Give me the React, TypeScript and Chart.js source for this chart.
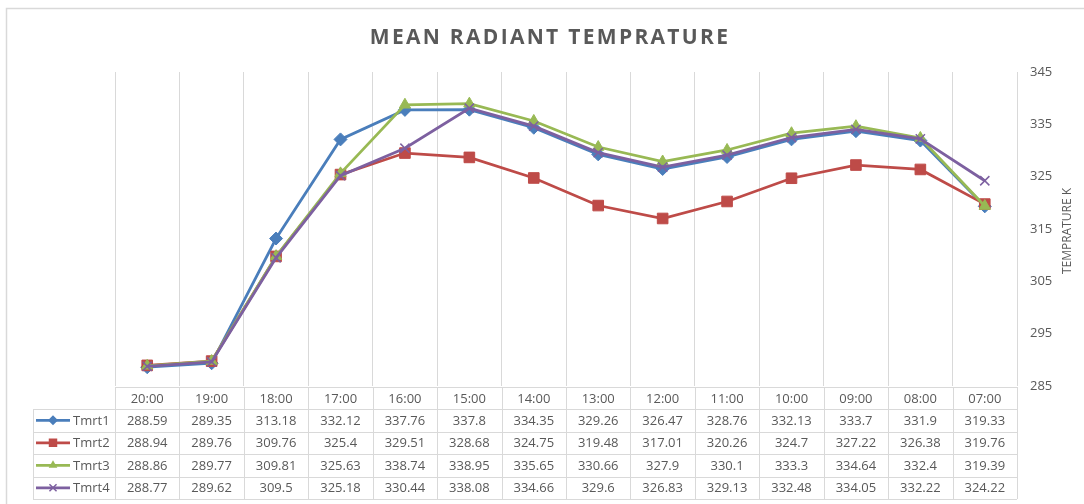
import React, { useEffect, useRef } from "react";
import { Chart, registerables } from "chart.js";

Chart.register(...registerables);

const categories = ["20:00", "19:00", "18:00", "17:00", "16:00", "15:00", "14:00", "13:00", "12:00", "11:00", "10:00", "09:00", "08:00", "07:00"];
const tmrt1 = [288.59, 289.35, 313.18, 332.12, 337.76, 337.8, 334.35, 329.26, 326.47, 328.76, 332.13, 333.7, 331.9, 319.33];
const tmrt2 = [288.94, 289.76, 309.76, 325.4, 329.51, 328.68, 324.75, 319.48, 317.01, 320.26, 324.7, 327.22, 326.38, 319.76];
const tmrt3 = [288.86, 289.77, 309.81, 325.63, 338.74, 338.95, 335.65, 330.66, 327.9, 330.1, 333.3, 334.64, 332.4, 319.39];
const tmrt4 = [288.77, 289.62, 309.5, 325.18, 330.44, 338.08, 334.66, 329.6, 326.83, 329.13, 332.48, 334.05, 332.22, 324.22];
const seriesNames = ["Tmrt1", "Tmrt2", "Tmrt3", "Tmrt4"];
const seriesValues = [tmrt1, tmrt2, tmrt3, tmrt4];
const seriesColors = ["#4A7EBB", "#BE4B48", "#98B954", "#7D60A0"];
const seriesMarkers = ["rectRot", "rect", "triangle", "crossRot"];
const markerRadius = [6.5, 7.5, 6.5, 6.5];
const yTicks = { min: 285, max: 345, step: 10 };
const titleText = "MEAN RADIANT TEMPRATURE";
const yTitleText = "TEMPRATURE K";

const TEXT = "#595959";
const GRID = "#D9D9D9";
const FONT = "'Open Sans', sans-serif";

function drawMarker(ctx: CanvasRenderingContext2D, style: string, x: number, y: number, r: number, color: string) {
  ctx.save();
  ctx.fillStyle = color;
  ctx.strokeStyle = color;
  ctx.lineWidth = 1.5;
  ctx.beginPath();
  if (style === "rectRot") {
    ctx.moveTo(x, y - r);
    ctx.lineTo(x + r, y);
    ctx.lineTo(x, y + r);
    ctx.lineTo(x - r, y);
    ctx.closePath();
    ctx.fill();
  } else if (style === "rect") {
    const s = r * Math.SQRT1_2;
    ctx.rect(x - s, y - s, 2 * s, 2 * s);
    ctx.fill();
  } else if (style === "triangle") {
    ctx.moveTo(x, y - r);
    ctx.lineTo(x + r * 0.866, y + r * 0.5);
    ctx.lineTo(x - r * 0.866, y + r * 0.5);
    ctx.closePath();
    ctx.fill();
  } else {
    const s = r * Math.SQRT1_2;
    ctx.moveTo(x - s, y - s);
    ctx.lineTo(x + s, y + s);
    ctx.moveTo(x + s, y - s);
    ctx.lineTo(x - s, y + s);
    ctx.stroke();
  }
  ctx.restore();
}

const framePlugin = {
  id: "frame",
  beforeDraw(chart: any) {
    const ctx: CanvasRenderingContext2D = chart.ctx;
    ctx.save();
    ctx.strokeStyle = "#D9D9D9";
    ctx.lineWidth = 1.5;
    ctx.strokeRect(6.5, 8.5, 1200, 600);
    ctx.fillStyle = TEXT;
    ctx.font = `bold 21px ${FONT}`;
    (ctx as any).letterSpacing = "2.3px";
    ctx.textAlign = "center";
    ctx.textBaseline = "middle";
    ctx.fillText(titleText, 550, 38);
    ctx.restore();
  },
};

const tablePlugin = {
  id: "dataTable",
  afterDraw(chart: any) {
    const ctx: CanvasRenderingContext2D = chart.ctx;
    const area = chart.chartArea;
    const x = chart.scales.x;
    const n = categories.length;
    const colW = (area.right - area.left) / n;
    const top = area.bottom + 1;
    const headerH = 22;
    const rowH = 22.5;
    const legendLeft = 33;
    const bottom = top + headerH + rowH * seriesNames.length;

    ctx.save();
    ctx.strokeStyle = GRID;
    ctx.lineWidth = 1;
    ctx.beginPath();
    ctx.moveTo(area.left, Math.round(top) + 0.5);
    ctx.lineTo(area.right, Math.round(top) + 0.5);
    for (let r = 0; r <= seriesNames.length; r++) {
      const yy = Math.round(top + headerH + r * rowH) + 0.5;
      ctx.moveTo(legendLeft, yy);
      ctx.lineTo(area.right, yy);
    }
    for (let i = 0; i <= n; i++) {
      const xx = Math.round(area.left + i * colW) + 0.5;
      ctx.moveTo(xx, top);
      ctx.lineTo(xx, bottom);
    }
    ctx.moveTo(legendLeft + 0.5, top + headerH);
    ctx.lineTo(legendLeft + 0.5, bottom);
    ctx.stroke();

    ctx.fillStyle = TEXT;
    ctx.font = `13px ${FONT}`;
    ctx.textAlign = "center";
    ctx.textBaseline = "middle";
    categories.forEach((c, i) => {
      ctx.fillText(c, x.getPixelForValue(i), top + headerH / 2 + 1);
    });
    seriesValues.forEach((vals, r) => {
      const cy = top + headerH + r * rowH + rowH / 2 + 1;
      vals.forEach((v, i) => {
        ctx.fillText(String(v), x.getPixelForValue(i), cy);
      });
      ctx.save();
      ctx.strokeStyle = seriesColors[r];
      ctx.lineWidth = 2.75;
      ctx.beginPath();
      ctx.moveTo(36, cy - 1);
      ctx.lineTo(70, cy - 1);
      ctx.stroke();
      ctx.restore();
      drawMarker(ctx, seriesMarkers[r], 53, cy - 1, markerRadius[r] - 1.5, seriesColors[r]);
      ctx.textAlign = "left";
      ctx.fillText(seriesNames[r], 73, cy);
      ctx.textAlign = "center";
    });

    ctx.save();
    ctx.translate(1068, 231);
    ctx.rotate(-Math.PI / 2);
    ctx.font = `12px ${FONT}`;
    ctx.fillText(yTitleText, 0, 0);
    ctx.restore();
    ctx.restore();
  },
};

export default function App() {
  const ref = useRef<HTMLCanvasElement>(null);
  useEffect(() => {
    if (!ref.current) return;
    const chart = new Chart(ref.current, {
      type: "line",
      data: {
        labels: categories,
        datasets: seriesNames.map((name, i) => ({
          label: name,
          data: seriesValues[i],
          borderColor: seriesColors[i],
          backgroundColor: seriesColors[i],
          borderWidth: 2.75,
          pointStyle: seriesMarkers[i] as any,
          pointRadius: markerRadius[i],
          pointBorderWidth: seriesMarkers[i] === "crossRot" ? 1.5 : 1,
          tension: 0,
          order: seriesNames.length - i,
        })),
      },
      options: {
        responsive: false,
        animation: false,
        devicePixelRatio: 1,
        layout: { padding: { top: 72, left: 115, right: 0, bottom: 0 } },
        plugins: {
          legend: { display: false },
          tooltip: { enabled: false },
          title: { display: false },
        },
        scales: {
          x: {
            offset: true,
            grid: { offset: true, color: GRID, drawTicks: false },
            border: { display: false },
            ticks: { display: false },
            afterFit: (s: any) => {
              s.height = 118;
            },
          },
          y: {
            position: "right",
            min: yTicks.min,
            max: yTicks.max,
            grid: { display: false, drawTicks: false },
            border: { display: false },
            ticks: {
              stepSize: yTicks.step,
              padding: 13,
              color: TEXT,
              font: { family: FONT, size: 13 },
            },
            afterFit: (s: any) => {
              s.width = 67;
            },
          },
        },
      },
      plugins: [framePlugin, tablePlugin],
    });
    return () => chart.destroy();
  }, []);
  return (
    <div style={{ position: "fixed", left: 0, top: 0, width: 1084, height: 504, background: "#fff" }}>
      <canvas ref={ref} width={1084} height={504} />
    </div>
  );
}
